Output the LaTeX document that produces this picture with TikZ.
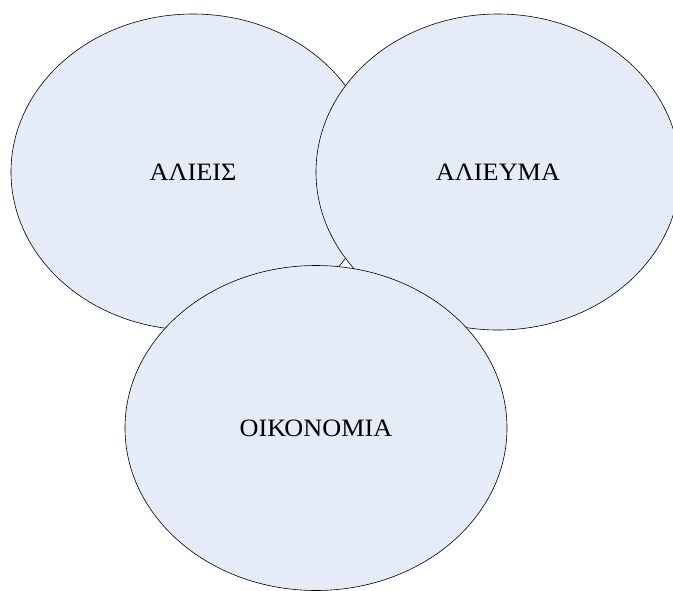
\documentclass[tikz,border=0pt]{standalone}
\usepackage{fontspec}
\setmainfont[FakeStretch=1.05]{Liberation Serif}
\usetikzlibrary{shapes.geometric}
\definecolor{bubblefill}{RGB}{230,236,247}
\tikzset{
  bubble/.style={ellipse, draw=black, line width=0.6pt, fill=bubblefill,
    inner sep=0pt, font=\fontsize{25}{29}\selectfont},
}
\begin{document}
\begin{tikzpicture}[x=1pt, y=-1pt]
  \useasboundingbox (0,0) rectangle (673,590);
  \node[bubble, minimum width=364pt, minimum height=316pt] (alieis) at (193,172) {ΑΛΙΕΙΣ};
  \node[bubble, minimum width=364pt, minimum height=316pt] (alieyma) at (498,172) {ΑΛΙΕΥΜΑ};
  \node[bubble, minimum width=382pt, minimum height=325pt] (oikonomia) at (316,428) {ΟΙΚΟΝΟΜΙΑ};
\end{tikzpicture}
\end{document}
